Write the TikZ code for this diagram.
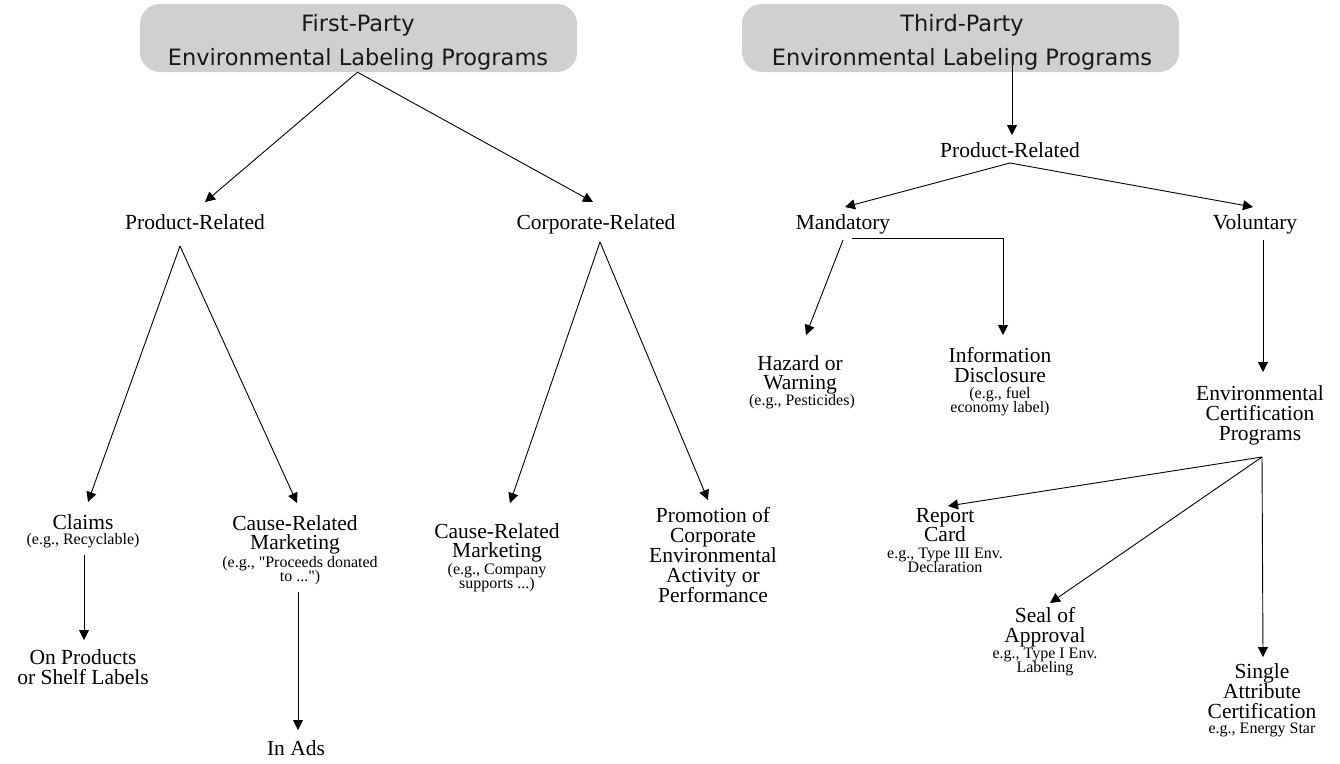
\documentclass[tikz,border=0pt]{standalone}
\usepackage{fontspec}
\setmainfont{Liberation Serif}
\newfontfamily\hdrfont{DejaVu Sans}
\usetikzlibrary{arrows.meta,calc}
\definecolor{boxgray}{RGB}{208,208,208}
\definecolor{hdrtext}{RGB}{25,25,25}
\tikzset{
  bigtxt/.style={font=\fontsize{21.5}{20}\selectfont, inner sep=0pt, anchor=base},
  smltxt/.style={font=\fontsize{16}{14}\selectfont, inner sep=0pt, anchor=base},
  hdrbox/.style={fill=boxgray, rounded corners=20pt, minimum width=437pt, minimum height=68pt, inner sep=0pt},
  hdrtxt/.style={font=\hdrfont\fontsize{22.5}{24}\selectfont, text=hdrtext, inner sep=0pt, anchor=base},
  conn/.style={line width=0.9pt, -{Triangle[length=10pt,width=10pt]}},
}
\begin{document}
\begin{tikzpicture}[x=1pt,y=-1pt]
\path[use as bounding box] (0,0) rectangle (1340,763);
% headers
\node[hdrbox] (h1) at (358.5,38) {};
\node[hdrtxt] (h1a) at (358,31) {First-Party};
\node[hdrtxt] (h1b) at (358,65) {Environmental Labeling Programs};
\node[hdrbox] (h2) at (960.5,38) {};
\node[hdrtxt] (h2a) at (962,31) {Third-Party};
\node[hdrtxt] (h2b) at (962,65) {Environmental Labeling Programs};
% left tree
\node[bigtxt] (prodL) at (195,229) {Product-Related};
\node[bigtxt] (corpL) at (596,229) {Corporate-Related};
\node[bigtxt] (claims1) at (83,529) {Claims};
\node[smltxt] (claims2) at (83,544) {(e.g., Recyclable)};
\node[bigtxt] (crmA1) at (295,530) {Cause-Related};
\node[bigtxt] (crmA2) at (295,549) {Marketing};
\node[smltxt] (crmA3) at (300,567) {(e.g., \textquotedbl Proceeds donated};
\node[smltxt] (crmA4) at (300,581) {to ...\textquotedbl)};
\node[bigtxt] (onp1) at (83,664) {On Products};
\node[bigtxt] (onp2) at (83,684) {or Shelf Labels};
\node[bigtxt] (inads) at (296,755) {In Ads};
\node[bigtxt] (crmB1) at (497,538) {Cause-Related};
\node[bigtxt] (crmB2) at (497,557) {Marketing};
\node[smltxt] (crmB3) at (497,574) {(e.g., Company};
\node[smltxt] (crmB4) at (497,588) {supports ...)};
\node[bigtxt] (promo1) at (713,522) {Promotion of};
\node[bigtxt] (promo2) at (713,542) {Corporate};
\node[bigtxt] (promo3) at (713,562) {Environmental};
\node[bigtxt] (promo4) at (713,582) {Activity or};
\node[bigtxt] (promo5) at (713,602) {Performance};
% right tree
\node[bigtxt] (prodR) at (1010,157) {Product-Related};
\node[bigtxt] (mand) at (843,229) {Mandatory};
\node[bigtxt] (vol) at (1255,229) {Voluntary};
\node[bigtxt] (haz1) at (800,370) {Hazard or};
\node[bigtxt] (haz2) at (800,389) {Warning};
\node[smltxt] (haz3) at (802,405) {(e.g., Pesticides)};
\node[bigtxt] (info1) at (1000,362) {Information};
\node[bigtxt] (info2) at (1000,382) {Disclosure};
\node[smltxt] (info3) at (1000,398) {(e.g., fuel};
\node[smltxt] (info4) at (1000,412) {economy label)};
\node[bigtxt] (env1) at (1260,400) {Environmental};
\node[bigtxt] (env2) at (1260,420) {Certification};
\node[bigtxt] (env3) at (1260,440) {Programs};
\node[bigtxt] (rep1) at (945,522) {Report};
\node[bigtxt] (rep2) at (945,541) {Card};
\node[smltxt] (rep3) at (945,558) {e.g., Type III Env.};
\node[smltxt] (rep4) at (945,572) {Declaration};
\node[bigtxt] (seal1) at (1045,622) {Seal of};
\node[bigtxt] (seal2) at (1045,642) {Approval};
\node[smltxt] (seal3) at (1045,658) {e.g., Type I Env.};
\node[smltxt] (seal4) at (1045,672) {Labeling};
\node[bigtxt] (sing1) at (1262,678) {Single};
\node[bigtxt] (sing2) at (1262,698) {Attribute};
\node[bigtxt] (sing3) at (1262,718) {Certification};
\node[smltxt] (sing4) at (1262,733) {e.g., Energy Star};
% connectors left
\draw[conn] ($(h1.south)+(-1,0)$) -- ($(prodL.base)+(10,-27)$);
\draw[conn] ($(h1.south)+(-1,0)$) -- ($(corpL.base)+(-3,-27)$);
\draw[conn] ($(prodL.base)+(-15,17)$) -- ($(claims1.base)+(5,-27)$);
\draw[conn] ($(prodL.base)+(-15,17)$) -- ($(crmA1.base)+(2,-27)$);
\draw[conn] ($(corpL.base)+(4,13)$) -- ($(crmB1.base)+(13,-35)$);
\draw[conn] ($(corpL.base)+(4,13)$) -- ($(promo1.base)+(-5,-22)$);
\draw[conn] ($(claims2.base)+(1,11)$) -- ($(onp1.base)+(1,-24)$);
\draw[conn] ($(crmA4.base)+(-2,11)$) -- ($(inads.base)+(2,-25)$);
% connectors right
\draw[conn] ($(h2.south)+(51.5,-7)$) -- ($(prodR.base)+(2,-22)$);
\draw[conn] ($(prodR.base)+(0,6)$) -- ($(mand.base)+(2,-22)$);
\draw[conn] ($(prodR.base)+(0,6)$) -- ($(vol.base)+(-2,-22)$);
\draw[conn] ($(mand.base)+(0,11)$) -- ($(haz1.base)+(6,-35)$);
\draw[conn] ($(mand.base)+(9,9)$) -| ($(info1.base)+(3,-27)$);
\draw[conn] ($(vol.base)+(8,11)$) -- ($(env1.base)+(3,-28)$);
\draw[conn] ($(env3.base)+(2,17)$) -- ($(rep1.base)+(3,-16)$);
\draw[conn] ($(env3.base)+(2,17)$) -- ($(seal1.base)+(5,-19)$);
\draw[conn] ($(env3.base)+(2,17)$) -- ($(sing1.base)+(1,-21)$);
\end{tikzpicture}
\end{document}
